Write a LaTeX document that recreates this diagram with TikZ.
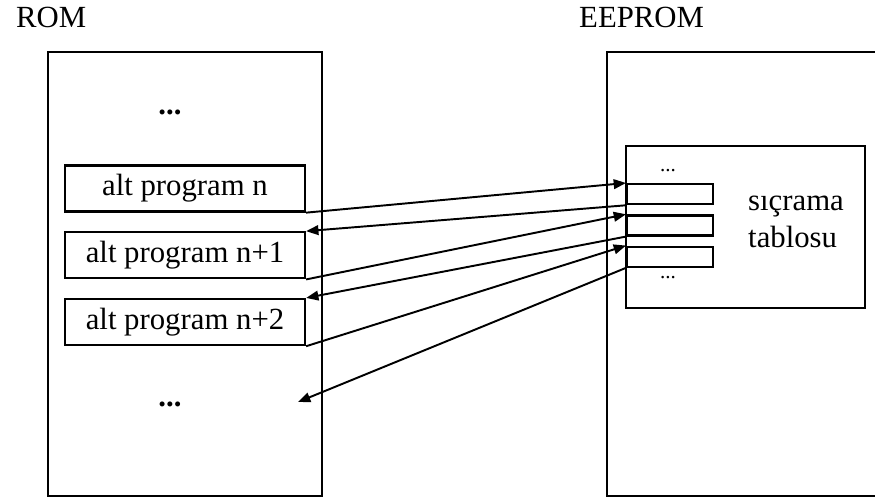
\documentclass[tikz,border=0pt]{standalone}
\usepackage{fontspec}
\setmainfont{Liberation Serif}
\usetikzlibrary{positioning}
\usetikzlibrary{arrows.meta}

\begin{document}
\begin{tikzpicture}[
        font=\fontsize{17.5}{21}\selectfont,
        prog/.style={draw, line width=1.3pt, minimum width=4.8cm, minimum height=0.92cm, inner sep=0pt},
        slot/.style={draw, line width=1.3pt, minimum width=1.72cm, minimum height=0.40cm, inner sep=0pt},
        jump/.style={line width=1.1pt, -{Triangle[length=7pt,width=5.5pt]}},
        dots/.style={font=\fontsize{12}{14}\selectfont}
    ]
            \useasboundingbox (0,0) rectangle (17.5,-9.96);
            % Titles
            \node[anchor=base west] (romlbl) at (0.20,-0.56) {ROM};
            \node[anchor=base west] (eeplbl) at (11.46,-0.56) {EEPROM};

            % Memory blocks
            \draw[line width=1.3pt] (0.96,-1.04) rectangle (6.44,-9.92);
            \draw[line width=1.3pt] (17.5,-1.04) -- (12.14,-1.04) -- (12.14,-9.92) -- (17.5,-9.92);
            \draw[line width=1.3pt] (12.52,-2.92) rectangle (17.30,-6.16);

            % Routines in ROM
            \node[prog] (p1) at (3.70,-3.77) {alt program n};
            \node[prog, below=0.37cm of p1] (p2) {alt program n+1};
            \node[prog, below=0.37cm of p2] (p3) {alt program n+2};
            \node (romtop) at (3.40,-2.24) {\textbf{...}};
            \node (rombot) at (3.40,-8.08) {\textbf{...}};

            % Jump table in EEPROM
            \node[slot, anchor=north west] (s1) at (12.52,-3.66) {};
            \node[slot, below=0.18cm of s1] (s2) {};
            \node[slot, below=0.18cm of s2] (s3) {};
            \node[dots] (tbltop) at (13.36,-3.42) {...};
            \node[dots] (tblbot) at (13.36,-5.56) {...};
            \node[anchor=base west, align=left] (tbl) at (14.84,-4.94) {sıçrama\\tablosu};

            % Jumps
            \coordinate (rest) at (5.96,-8.04);
            \draw[jump] (p1.south east) -- (s1.north west);
            \draw[jump] (s1.south west) -- (p2.north east);
            \draw[jump] (p2.south east) -- (s2.north west);
            \draw[jump] (s2.south west) -- (p3.north east);
            \draw[jump] (p3.south east) -- (s3.north west);
            \draw[jump] (s3.south west) -- (rest);
        \end{tikzpicture}
\end{document}
